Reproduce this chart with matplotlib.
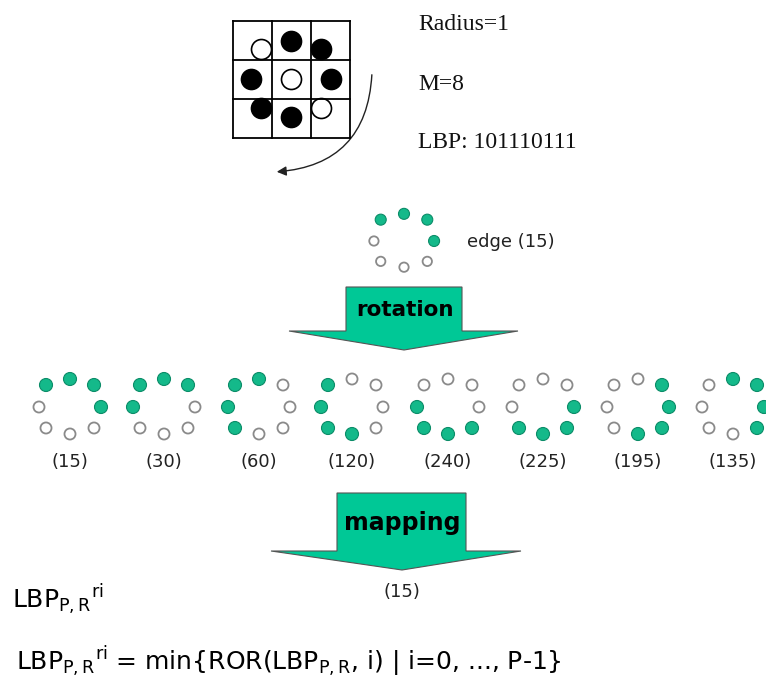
import matplotlib.pyplot as plt
from matplotlib.patches import Circle, Polygon, FancyArrowPatch

# rotation variants of the edge pattern (bit 0 = right, counter-clockwise)
codes = [15, 30, 60, 120, 240, 225, 195, 135]
labels = ['(15)', '(30)', '(60)', '(120)', '(240)', '(225)', '(195)', '(135)']
edge_code = 15
result_label = '(15)'

# 3x3 grid example: 1 = black, 0 = white (row-major, centre included)
grid_states = [[0, 1, 1],
               [1, 0, 1],
               [1, 1, 0]]
info_lines = ['Radius=1', 'M=8', 'LBP: 101110111']

TEAL = '#00c896'
DOT = '#14b98a'

# offsets of the 8 ring positions (px), index 0 = right, going ccw
ring_dx = [31, 24, 0, -24, -31, -24, 0, 24]
ring_dy = [0, -22, -28, -22, 0, 21, 27, 21]

plt.rcParams['mathtext.fontset'] = 'dejavusans'

fig = plt.figure(figsize=(7.66, 6.84), dpi=100)
ax = fig.add_axes([0, 0, 1, 1])
ax.set_xlim(0, 766)
ax.set_ylim(684, 0)
ax.axis('off')


def ring(cx, cy, code, r=6.5, scale=1.0):
    for k in range(8):
        on = (code >> k) & 1
        x = cx + ring_dx[k] * scale
        y = cy + ring_dy[k] * scale
        if on:
            ax.add_patch(Circle((x, y), r, fc=DOT, ec='#0b8c68', lw=0.8))
        else:
            ax.add_patch(Circle((x, y), r * 0.85, fc='white', ec='#8a8a8a', lw=1.3))


# --- 3x3 grid ---
gx0, gy0, cell = 233, 21, 39
for i in range(4):
    ax.plot([gx0, gx0 + 3 * cell], [gy0 + i * cell, gy0 + i * cell], color='black', lw=1.3)
    ax.plot([gx0 + i * cell, gx0 + i * cell], [gy0, gy0 + 3 * cell], color='black', lw=1.3)
gcx, gcy = gx0 + 1.5 * cell, gy0 + 1.5 * cell
grid_off = {(0, 0): (-30, -30), (0, 1): (0, -38), (0, 2): (30, -30),
            (1, 0): (-40, 0), (1, 1): (0, 0), (1, 2): (40, 0),
            (2, 0): (-30, 29), (2, 1): (0, 38), (2, 2): (30, 29)}
for r_i, row in enumerate(grid_states):
    for c_i, v in enumerate(row):
        dx, dy = grid_off[(r_i, c_i)]
        ax.add_patch(Circle((gcx + dx, gcy + dy), 10,
                            fc='black' if v else 'white', ec='black', lw=1.2))

arc = FancyArrowPatch((372, 72), (274, 172), connectionstyle='arc3,rad=-0.45',
                      arrowstyle='-|>', mutation_scale=14, lw=1.0, color='#222222')
ax.add_patch(arc)

for i, t in enumerate(info_lines):
    ax.text(418, 25 + i * 59, t, family='Liberation Serif', fontsize=17,
            va='center', ha='left', color='#111111')

# --- edge pattern ---
ring(404, 241, edge_code, r=5.5, scale=0.97)
ax.text(467, 242, 'edge (15)', fontsize=13, va='center', ha='left', color='#222222')


def block_arrow(x0, x1, ytop, ywing, xl, xr, xtip, ytip, text, fs):
    pts = [(x0, ytop), (x1, ytop), (x1, ywing), (xr, ywing), (xtip, ytip),
           (xl, ywing), (x0, ywing)]
    ax.add_patch(Polygon(pts, closed=True, fc=TEAL, ec='#555555', lw=0.8))
    ax.text((x0 + x1) / 2 + 1, (ytop + ywing) / 2 + 1, text, fontsize=fs,
            fontweight='bold', ha='center', va='center', color='black')


block_arrow(346, 462, 287, 331, 289, 518, 404, 350, 'rotation', 15.5)

# --- row of rotations ---
xs = [70, 164, 259, 352, 448, 543, 638, 733]
for x, c, lab in zip(xs, codes, labels):
    ring(x, 407, c)
    ax.text(x, 462, lab, fontsize=13, ha='center', va='center', color='#222222')

block_arrow(337, 466, 493, 551, 271, 521, 402, 570, 'mapping', 17)
ax.text(402, 592, result_label, fontsize=13, ha='center', va='center', color='#222222')

# --- formulas ---
ax.text(12, 600, r'LBP$_{\mathrm{P,R}}{}^{\mathrm{ri}}$', fontsize=18, va='center', ha='left')
ax.text(16, 662, r'LBP$_{\mathrm{P,R}}{}^{\mathrm{ri}}$ = min{ROR(LBP$_{\mathrm{P,R}}$, i) | i=0, ..., P-1}',
        fontsize=18, va='center', ha='left')

fig.savefig('out.png', dpi=100)
